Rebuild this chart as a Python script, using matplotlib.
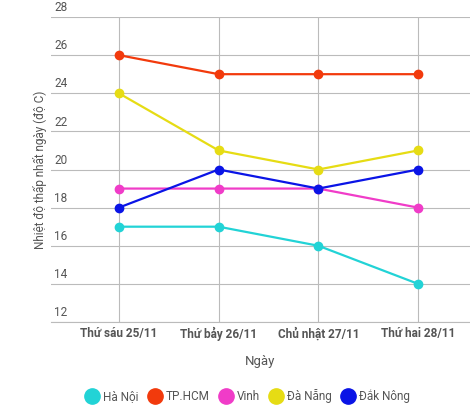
import matplotlib
matplotlib.use("Agg")
import matplotlib.pyplot as plt
from matplotlib.lines import Line2D

days = ["Thứ sáu 25/11", "Thứ bảy 26/11", "Chủ nhật 27/11", "Thứ hai 28/11"]
ha_noi = [17, 17, 16, 14]
tphcm = [26, 25, 25, 25]
vinh = [19, 19, 19, 18]
da_nang = [24, 21, 20, 21]
dak_nong = [18, 20, 19, 20]
series = [("Hà Nội", ha_noi, "#22d3d6"), ("TP.HCM", tphcm, "#f23a0c"),
          ("Vinh", vinh, "#f03cc8"), ("Đà Nẵng", da_nang, "#e6dc14"),
          ("Đắk Nông", dak_nong, "#0a14e6")]
yticks = [12, 14, 16, 18, 20, 22, 24, 26, 28]

plt.rcParams['font.family'] = ['Roboto', 'DejaVu Sans']
fig = plt.figure(figsize=(4.70, 4.12), dpi=100)
ax = fig.add_axes([51/470, 1-322/412, 1-51/470, (322-17)/412])
x = list(range(len(days)))
for name, vals, c in series:
    ax.plot(x, vals, color=c, lw=1.6, marker='o', ms=6, zorder=3)
ax.set_xlim(-0.68, 3.52)
ax.set_ylim(12, 28)
ax.set_yticks(yticks)
ax.set_yticklabels([])
ax.tick_params(length=0)
ax.set_xticks(x)
ax.set_xticklabels(days, fontsize=8.5, color="#555555", fontweight='bold')
ax.grid(True, color="#bbbbbb", lw=0.8)
for s in ["top", "right", "left"]:
    ax.spines[s].set_visible(False)
ax.spines["bottom"].set_color("#bbbbbb")
for t in yticks:
    ax.text(-0.65, t + 0.15, str(t), fontsize=8.5, color="#555555", va='bottom', ha='left')
ax.set_xlabel("Ngày", fontsize=9.5, color="#555555", labelpad=10)
fig.text(40/470, 1-170/412, "Nhiệt độ thấp nhất ngày (độ C)", rotation=90,
         fontsize=8.5, color="#555555", va='center', ha='center')
handles = [Line2D([], [], ls='none', marker='o', ms=11, color=c) for _, _, c in series]
fig.legend(handles, [n for n, _, _ in series], loc='center', bbox_to_anchor=(0.525, 1-396/412),
           ncol=5, frameon=False, fontsize=8.5, handletextpad=0.2, columnspacing=0.6,
           handlelength=1.5, labelcolor="#555555")
fig.savefig("out.png", dpi=100)
